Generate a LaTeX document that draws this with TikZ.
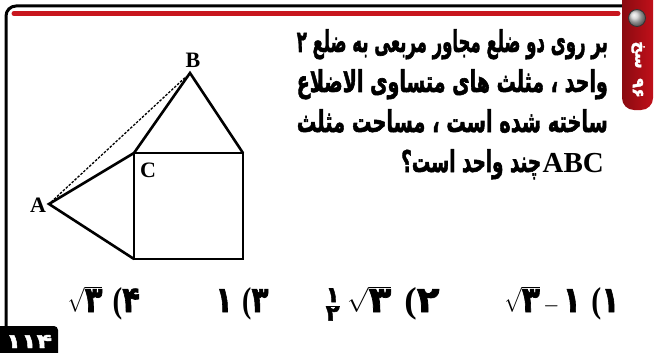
\documentclass[tikz,border=0pt]{standalone}
\usepackage{fontspec}
\usepackage{graphicx}
\TeXXeTstate=1
\newfontfamily\pfont[Script=Arabic, BoldFeatures={FakeBold=2}]{DejaVu Sans}
\newfontfamily\tnr{Liberation Serif}
\definecolor{stripered}{HTML}{C8161E}
\definecolor{tabred}{HTML}{C0101A}
\definecolor{tabdark}{HTML}{8A0A10}
\tikzset{
  geo/.style={line width=2.6pt, line join=miter},
  lab/.style={font=\tnr\bfseries\fontsize{22}{22}\selectfont, inner sep=0pt},
  ptext/.style={font=\pfont\bfseries\fontsize{30}{30}\selectfont, inner sep=0pt},
  ans/.style={font=\pfont\bfseries\fontsize{36}{36}\selectfont, inner sep=0pt, anchor=base},
}
\newcommand{\fitw}[2]{\resizebox{#1}{\height}{#2}}
\newcommand{\sq}[1]{$\sqrt{\hbox{#1}}$}
\begin{document}
\begin{tikzpicture}[x=1pt,y=-1pt]
\useasboundingbox (0,0) rectangle (656,353);
\fill[white] (0,0) rectangle (656,353);
% frame
\draw[line width=3pt, rounded corners=10pt] (6,326) -- (6,6) -- (626,6);
\draw[line width=5pt, stripered, line cap=round] (14,13.5) -- (618,13.5);
% tab
\shade[left color=tabdark, right color=tabred, rounded corners=12pt] (622,-20) rectangle (653,110);
\shade[ball color=gray!40, draw=black!80, line width=0.8pt] (637,18) circle (8.5);
\node[font=\pfont\bfseries\fontsize{16}{16}\selectfont, rotate=-90, inner sep=0pt] (tab1) at (638,55) {\beginR{\color{white}س\char"200D}{\color{yellow}\char"200Dخ}\endR};
\node[font=\pfont\bfseries\fontsize{16}{16}\selectfont, rotate=-90, inner sep=0pt, text=white] (tab2) at (638,88) {۹۶};
% page number box
\fill[black, rounded corners=4pt] (-6,326) rectangle (58,362);
\node[font=\pfont\bfseries\fontsize{20}{20}\selectfont, text=white, inner sep=0pt, anchor=base] (pg) at (29,348) {\resizebox{46pt}{\height}{۱۱۴}};
% geometry
\coordinate (C) at (134,153);
\coordinate (D) at (243,153);
\coordinate (E) at (243,259);
\coordinate (F) at (134,259);
\coordinate (B) at (190,73);
\coordinate (A) at (49,204);
\draw[geo] (C) rectangle (E);
\draw[geo] (C) -- (B) -- (D);
\draw[geo] (C) -- (A) -- (F);
\draw[line width=1.3pt, dash pattern=on 2.5pt off 1.5pt, shorten <=3pt, shorten >=5pt] (A) -- (B);
\node[lab] (lA) at (38,205) {A};
\node[lab] (lB) at (193,60) {B};
\node[lab] (lC) at (148,170) {C};
% question text
\node[ptext, anchor=base east] (l1) at (608,52) {\fitw{311pt}{\beginR بر روی دو ضلع مجاور مربعی به ضلع ۲\endR}};
\node[ptext, anchor=base east] (l2) at (608,92) {\fitw{311pt}{\beginR واحد ، مثلث های متساوی الاضلاع\endR}};
\node[ptext, anchor=base east] (l3) at (608,132) {\fitw{311pt}{\beginR ساخته شده است ، مساحت مثلث\endR}};
\node[font=\tnr\bfseries\fontsize{29}{29}\selectfont, inner sep=0pt, anchor=base east] (abc) at (604,172) {ABC};
\node[ptext, anchor=base east] (l4) at ([xshift=-1pt]abc.base west) {\fitw{140pt}{\beginR چند واحد است؟\endR}};
% answers
\node[ans] (o1) at (562,312) {\fitw{115pt}{\sq{۳}$\,-\,$۱ {\tnr(}۱}};
\node[ans] (o2) at (382,312) {\fitw{115pt}{$\frac{\hbox{\fontsize{22}{22}\selectfont ۱}}{\hbox{\fontsize{22}{22}\selectfont ۲}}$\,\sq{۳} {\tnr(}۲}};
\node[ans] (o3) at (242,312) {\fitw{53pt}{۱ {\tnr(}۳}};
\node[ans] (o4) at (104,312) {\fitw{72pt}{\sq{۳} {\tnr(}۴}};
\end{tikzpicture}
\end{document}
